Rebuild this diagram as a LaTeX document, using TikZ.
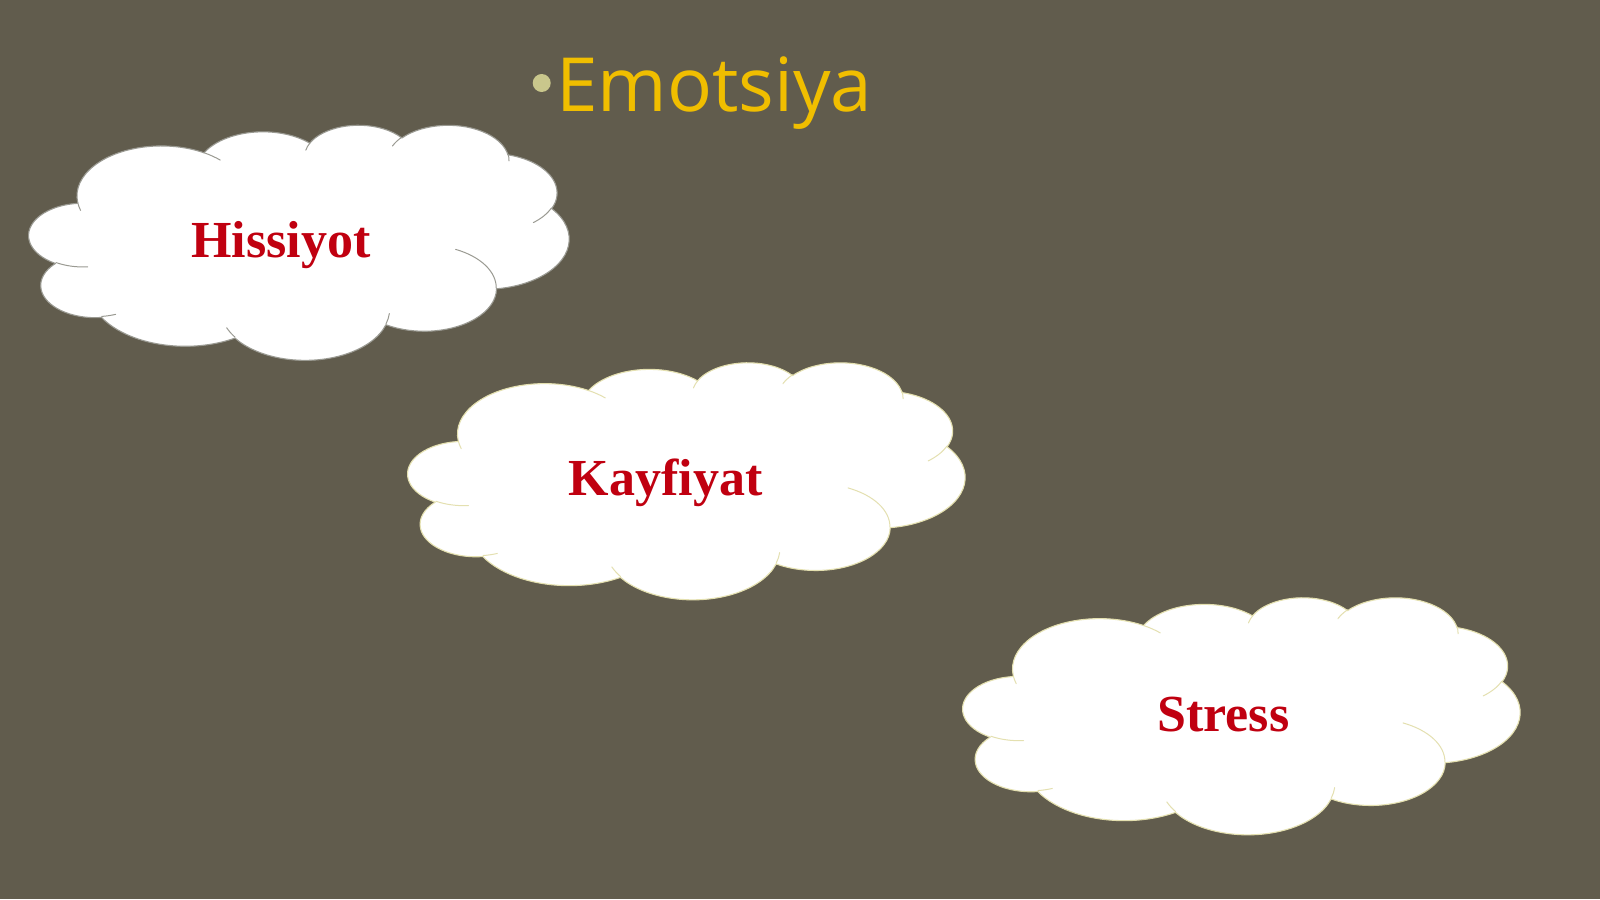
\documentclass[tikz,border=0pt]{standalone}
\usepackage{fontspec}
\setmainfont{Liberation Serif}
\newfontfamily\titlefont{Open Sans}
\newfontfamily\cloudfont[Ligatures=NoCommon]{Liberation Serif}
\definecolor{bgcol}{HTML}{615C4D}
\definecolor{titlecol}{HTML}{F0BE00}
\definecolor{bulletcol}{HTML}{C9C78C}
\definecolor{wordcol}{HTML}{C00010}
\definecolor{edgegray}{HTML}{9A9A92}
\definecolor{edgecream}{HTML}{E4E0B0}
% visual (OOXML) angle -> parametric angle
\newcommand\cvt[4]{%
 \pgfmathsetmacro\cvtA{#4}%
 \pgfmathsetmacro\cvtB{\cvtA+asin(sin(atan2((#2)*sin(\cvtA),(#3)*cos(\cvtA))-\cvtA))}%
 \expandafter\global\expandafter\let\csname #1\endcsname\cvtB}
% outer arcs
\cvt{oas}{675.3}{919.0}{-190.4875}\cvt{oae}{675.3}{919.0}{-66.7070}
\cvt{obs}{533.3}{726.7}{-144.1024}\cvt{obe}{533.3}{726.7}{-54.1572}
\cvt{ocs}{436.5}{594.5}{-145.8079}\cvt{oce}{436.5}{594.5}{-46.0849}
\cvt{ods}{485.7}{659.5}{-130.9861}\cvt{ode}{485.7}{659.5}{-13.7444}
\cvt{oes}{533.3}{727.3}{-78.7089}\cvt{oee}{533.3}{727.3}{30.3180}
\cvt{ofs}{677.5}{922.0}{-46.2673}\cvt{ofe}{677.5}{922.0}{84.0017}
\cvt{ogs}{578.5}{786.7}{0.6250}\cvt{oge}{578.5}{786.7}{114.6583}
\cvt{ohs}{675.2}{921.5}{22.4516}\cvt{ohe}{675.2}{921.5}{137.6242}
\cvt{ois}{772.0}{1054.3}{66.2426}\cvt{oie}{772.0}{1054.3}{141.9536}
\cvt{ojs}{436.0}{591.8}{-274.9421}\cvt{oje}{436.0}{591.8}{-128.2065}
\cvt{oks}{434.5}{594.5}{-246.8285}\cvt{oke}{434.5}{594.5}{-94.3096}
% inner arcs
\cvt{ias}{434.5}{594.5}{86.7420}\cvt{iae}{434.5}{594.5}{113.1715}
\cvt{ibs}{436.0}{591.8}{73.6105}\cvt{ibe}{436.0}{591.8}{85.0580}
\cvt{ics}{675.2}{921.5}{137.6242}\cvt{ice}{675.2}{921.5}{151.7053}
\cvt{ids}{675.2}{921.5}{6.4533}\cvt{ide}{675.2}{921.5}{22.4517}
\cvt{ies}{578.5}{786.7}{-70.2924}\cvt{iee}{578.5}{786.7}{0.6250}
\cvt{ifs}{533.3}{727.3}{30.3180}\cvt{ife}{533.3}{727.3}{58.0695}
\cvt{igs}{485.7}{659.5}{-13.7443}\cvt{ige}{485.7}{659.5}{1.1146}
\cvt{ihs}{485.7}{659.5}{-149.1815}\cvt{ihe}{485.7}{659.5}{-130.9861}
\cvt{iis}{436.5}{594.5}{-163.4943}\cvt{iie}{436.5}{594.5}{-145.8079}
\cvt{ijs}{675.3}{919.0}{-66.7070}\cvt{ije}{675.3}{919.0}{-54.3876}
\cvt{iks}{675.3}{919.0}{157.6544}\cvt{ike}{675.3}{919.0}{169.5126}
% cloud: #1 x0, #2 y0, #3 width, #4 height, #5 edge colour, #6 fill colour
\newcommand\mycloud[6]{%
 \begin{scope}[shift={(#1,#2)},x={(#3pt/4320,0pt)},y={(0pt,-#4pt/4320)}]
  \path[cloudbody={#5}{#6}] (390,1437)
   arc[x radius=675.3,y radius=919.0,start angle=\oas,end angle=\oae]
   arc[x radius=533.3,y radius=726.7,start angle=\obs,end angle=\obe]
   arc[x radius=436.5,y radius=594.5,start angle=\ocs,end angle=\oce]
   arc[x radius=485.7,y radius=659.5,start angle=\ods,end angle=\ode]
   arc[x radius=533.3,y radius=727.3,start angle=\oes,end angle=\oee]
   arc[x radius=677.5,y radius=922.0,start angle=\ofs,end angle=\ofe]
   arc[x radius=578.5,y radius=786.7,start angle=\ogs,end angle=\oge]
   arc[x radius=675.2,y radius=921.5,start angle=\ohs,end angle=\ohe]
   arc[x radius=772.0,y radius=1054.3,start angle=\ois,end angle=\oie]
   arc[x radius=436.0,y radius=591.8,start angle=\ojs,end angle=\oje]
   arc[x radius=434.5,y radius=594.5,start angle=\oks,end angle=\oke]
   -- cycle;
  \path[cloudinner={#5}]
   (469.3,2617.7) arc[x radius=434.5,y radius=594.5,start angle=\ias,end angle=\iae]
   (692.8,3489.9) arc[x radius=436.0,y radius=591.8,start angle=\ibs,end angle=\ibe]
   (1647.8,3909.0) arc[x radius=675.2,y radius=921.5,start angle=\ics,end angle=\ice]
   (2882.7,3475.1) arc[x radius=675.2,y radius=921.5,start angle=\ids,end angle=\ide]
   (3412.9,2295.4) arc[x radius=578.5,y radius=786.7,start angle=\ies,end angle=\iee]
   (4179.8,1535.4) arc[x radius=533.3,y radius=727.3,start angle=\ifs,end angle=\ife]
   (3832.4,542.6) arc[x radius=485.7,y radius=659.5,start angle=\igs,end angle=\ige]
   (2907.8,395.2) arc[x radius=485.7,y radius=659.5,start angle=\ihs,end angle=\ihe]
   (2214.1,472.0) arc[x radius=436.5,y radius=594.5,start angle=\iis,end angle=\iie]
   (1400.0,519.2) arc[x radius=675.3,y radius=919.0,start angle=\ijs,end angle=\ije]
   (412.7,1578.9) arc[x radius=675.3,y radius=919.0,start angle=\iks,end angle=\ike];
 \end{scope}}
\tikzset{
 cloudbody/.style 2 args={fill=#2,draw=#1,line width=1.1pt,line join=round},
 cloudinner/.style={draw=#1,line width=1pt,line cap=round},
 word/.style={font=\cloudfont\bfseries\fontsize{52}{60}\selectfont,text=wordcol,inner sep=0pt,anchor=base},
 titletext/.style={font=\titlefont\fontsize{74.7}{80}\selectfont,text=titlecol,inner sep=0pt,anchor=base west},
}
\begin{document}
\begin{tikzpicture}[x=1pt,y=-1pt]
\useasboundingbox (0,0) rectangle (1600,899);
\fill[bgcol] (0,0) rectangle (1600,899);
% title
\fill[bulletcol] (541.7,83) circle[radius=9pt];
\node[titletext] (title) at (556,111.7) {Emotsiya};
\coordinate (bullet) at (541.7,83);
% clouds
\mycloud{29}{124.5}{540}{235}{edgegray}{white}
\mycloud{408}{362}{557}{237}{edgecream}{white}
\mycloud{963}{597}{557}{237}{edgecream}{white}
% words
\node[word] (hiss) at (281,257) {Hissiyot};
\node[word] (kayf) at (665.7,495) {Kayfiyat};
\node[word] (stress) at (1223.3,731.7) {Stress};
\end{tikzpicture}
\end{document}
